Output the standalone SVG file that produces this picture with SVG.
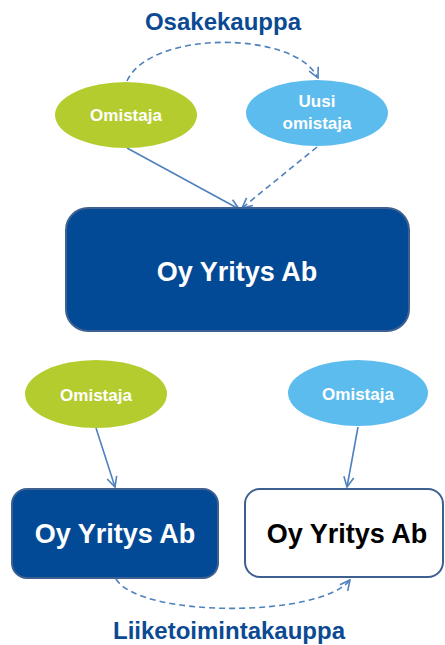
<svg xmlns="http://www.w3.org/2000/svg" width="445" height="645" viewBox="0 0 445 645">
<style>
text{font-family:"Liberation Sans",Arial,sans-serif;font-weight:bold;text-anchor:middle}
.title{font-size:24px;fill:#0b4a92}
.el{font-size:17px;fill:#ffffff}
.box{font-size:27px}
.c{fill:none;stroke:#4f81bd;stroke-width:1.6}
.d{stroke-dasharray:6 4}
.green{fill:#b5cc2e}
.blue{fill:#5dbcee}
</style>
<defs>
<marker id="arr" viewBox="0 0 12 12" refX="11" refY="6" markerWidth="12" markerHeight="12" markerUnits="userSpaceOnUse" orient="auto">
<path d="M1,1 L11,6 L1,11" fill="none" stroke="#4f81bd" stroke-width="1.6"/>
</marker>
</defs>
<text class="title" x="223" y="30">Osakekauppa</text>
<text class="title" x="229" y="639">Liiketoimintakauppa</text>
<g id="connectors">
<path class="c d" d="M127,81 C150,30 295,30 318,78" marker-end="url(#arr)"/>
<path class="c" d="M127,148 L239,209" marker-end="url(#arr)"/>
<path class="c d" d="M317,147 L242,208" marker-end="url(#arr)"/>
<path class="c" d="M96,428 L115,487" marker-end="url(#arr)"/>
<path class="c" d="M358,427 L347,487" marker-end="url(#arr)"/>
<path class="c d" d="M116,579 C140,618 320,618 350,580" marker-end="url(#arr)"/>
</g>
<g id="omistaja1">
<ellipse class="green" cx="126" cy="115" rx="71" ry="33"/>
<text class="el" x="126" y="121">Omistaja</text>
</g>
<g id="uusi-omistaja">
<ellipse class="blue" cx="317" cy="113" rx="71" ry="33"/>
<text class="el" x="317" y="107">Uusi</text>
<text class="el" x="317" y="129">omistaja</text>
</g>
<g id="yritys1">
<rect x="66" y="208" width="343" height="123" rx="22" fill="#034a96" stroke="#3d6091" stroke-width="2"/>
<text class="box" x="237" y="281" fill="#ffffff">Oy Yritys Ab</text>
</g>
<g id="omistaja2">
<ellipse class="green" cx="96" cy="394" rx="71" ry="34"/>
<text class="el" x="96" y="401">Omistaja</text>
</g>
<g id="omistaja3">
<ellipse class="blue" cx="358" cy="393" rx="70" ry="33"/>
<text class="el" x="358" y="400">Omistaja</text>
</g>
<g id="yritys2">
<rect x="12" y="489" width="206" height="89" rx="15" fill="#034a96" stroke="#3d6091" stroke-width="2"/>
<text class="box" x="115" y="543" fill="#ffffff">Oy Yritys Ab</text>
</g>
<g id="yritys3">
<rect x="245" y="489" width="198" height="88" rx="15" fill="#ffffff" stroke="#3d6091" stroke-width="2"/>
<text class="box" x="347" y="543" fill="#000000">Oy Yritys Ab</text>
</g>
</svg>
